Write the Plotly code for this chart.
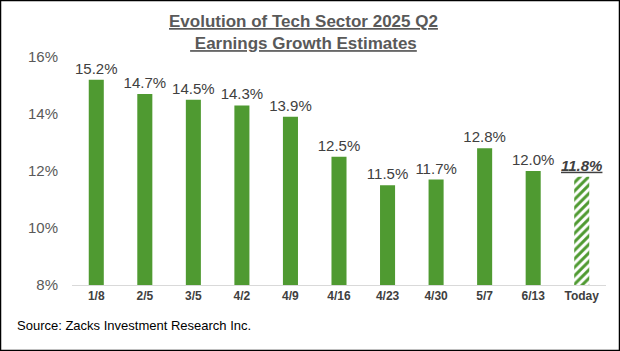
import plotly.graph_objects as go

categories = ["1/8", "2/5", "3/5", "4/2", "4/9", "4/16", "4/23", "4/30", "5/7", "6/13", "Today"]
values = [15.2, 14.7, 14.5, 14.3, 13.9, 12.5, 11.5, 11.7, 12.8, 12.0, 11.8]
y_ticks = [8, 10, 12, 14, 16]
y_tick_labels = ["8%", "10%", "12%", "14%", "16%"]

GREEN = "#4f9a31"

labels = [f"{v:.1f}%" for v in values]
labels[-1] = f"<b><i><u>{values[-1]:.1f}%</u></i></b>"

shapes_pat = [""] * (len(values) - 1) + ["/"]

fig = go.Figure()
fig.add_trace(go.Bar(
    x=categories, y=values,
    marker=dict(
        color=GREEN,
        line=dict(width=0),
        pattern=dict(shape=shapes_pat, fgcolor=GREEN, bgcolor="white",
                     fillmode="replace", size=6, solidity=0.5),
    ),
    text=labels,
    textposition="outside",
    constraintext="none",
    textfont=dict(family="Liberation Sans, Arial", size=15, color="#404040"),
    cliponaxis=False,
))

fig.update_layout(
    width=620, height=351,
    margin=dict(l=72, r=14, t=57, b=66),
    paper_bgcolor="white", plot_bgcolor="white",
    bargap=0.69,
    showlegend=False,
    font=dict(family="Liberation Sans, Arial"),
    xaxis=dict(
        showgrid=False, showline=True, linecolor="#d9d9d9", linewidth=1,
        ticks="", tickfont=dict(family="Liberation Sans, Arial", size=12, color="#404040"),
        tickprefix="<b>", ticksuffix="</b>",
    ),
    yaxis=dict(
        range=[8, 16], tickvals=y_ticks, ticktext=y_tick_labels,
        showgrid=False, zeroline=False, showline=False, ticks="",
        ticklabelstandoff=13,
        tickfont=dict(family="Liberation Sans, Arial", size=15, color="#595959"),
    ),
    shapes=[dict(type="rect", xref="paper", yref="paper", x0=-72/534, x1=1+14/534,
                 y0=-66/228, y1=1+57/228, line=dict(color="black", width=2.5))],
    annotations=[
        dict(
            text="<b><u>Evolution of Tech Sector 2025 Q2</u></b><br><b><u> Earnings Growth Estimates</u></b>",
            xref="paper", yref="paper", x=(303-72)/534, y=(285-32)/228,
            xanchor="center", yanchor="middle", showarrow=False,
            font=dict(family="Liberation Sans, Arial", size=17, color="#595959"),
        ),
        dict(
            text="Source: Zacks Investment Research Inc.", xref="paper", yref="paper",
            x=-57/534, y=-40/228, xanchor="left", yanchor="middle", showarrow=False,
            font=dict(family="Liberation Sans, Arial", size=13, color="black"),
        ),
    ],
)

fig.write_html("out.html")
